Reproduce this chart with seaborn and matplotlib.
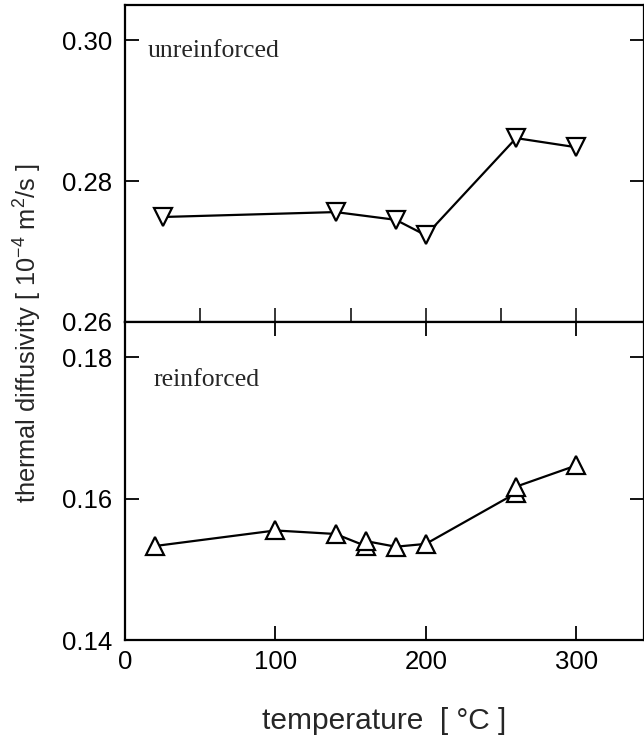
import matplotlib
matplotlib.use("Agg")
import matplotlib.pyplot as plt
import seaborn as sns
import pandas as pd
from matplotlib.ticker import MultipleLocator, FixedLocator

# ---- data ----
unrein_temp = [25, 140, 180, 200, 260, 300]
unrein_diff = [0.2749, 0.2756, 0.2745, 0.2723, 0.2861, 0.2848]

rein_temp = [20, 100, 140, 160, 160, 180, 200, 260, 260, 300]
rein_diff = [0.1533, 0.1555, 0.1550, 0.1540, 0.1533, 0.1532, 0.1536, 0.1617, 0.1608, 0.1647]

top_yticks = [0.26, 0.28, 0.30]
bot_yticks = [0.14, 0.16, 0.18]
x_ticks = [0, 100, 200, 300]

df_u = pd.DataFrame({"temperature": unrein_temp, "diffusivity": unrein_diff})
df_r = pd.DataFrame({"temperature": rein_temp, "diffusivity": rein_diff})

sns.set_style("ticks")
plt.rcParams["font.family"] = ["Liberation Sans", "DejaVu Sans"]
plt.rcParams["mathtext.fontset"] = "custom"
plt.rcParams["mathtext.rm"] = "Liberation Sans"
plt.rcParams["mathtext.it"] = "Liberation Sans:italic"
plt.rcParams["mathtext.bf"] = "Liberation Sans:bold"

fig = plt.figure(figsize=(6.44, 7.41), dpi=100)
L, R = 0.194, 1.0
ax_top = fig.add_axes([L, 0.5655, R - L, 0.9933 - 0.5655])
ax_bot = fig.add_axes([L, 0.1363, R - L, 0.5655 - 0.1363])

line_kw = dict(color="black", linewidth=1.6, markersize=12.5,
               markerfacecolor="white", markeredgecolor="black",
               markeredgewidth=1.6, estimator=None, legend=False)

sns.lineplot(data=df_u, x="temperature", y="diffusivity", marker="v",
             ax=ax_top, **line_kw)
sns.lineplot(data=df_r, x="temperature", y="diffusivity", marker="^",
             ax=ax_bot, **line_kw)

for ax in (ax_top, ax_bot):
    ax.set_xlim(0, 345)
    for s in ax.spines.values():
        s.set_visible(True)
        s.set_linewidth(1.6)
        s.set_color("black")
    ax.set_xlabel("")
    ax.set_ylabel("")
    ax.tick_params(axis="y", which="both", direction="in", length=10, width=1.3,
                   left=True, right=True, labelleft=True, labelright=False,
                   labelsize=18.5, pad=9, colors="black")

ax_top.set_ylim(0.26, 0.305)
ax_top.yaxis.set_major_locator(FixedLocator(top_yticks))
ax_top.set_yticklabels([f"{v:.2f}" for v in top_yticks])
ax_top.xaxis.set_major_locator(MultipleLocator(50))
ax_top.tick_params(axis="x", direction="in", length=10, width=1.3,
                   bottom=True, top=False, labelbottom=False)

ax_bot.set_ylim(0.14, 0.185)
ax_bot.yaxis.set_major_locator(FixedLocator(bot_yticks))
ax_bot.set_yticklabels([f"{v:.2f}" for v in bot_yticks])
ax_bot.xaxis.set_major_locator(FixedLocator(x_ticks))
ax_bot.set_xticklabels([str(v) for v in x_ticks])
ax_bot.tick_params(axis="x", direction="in", length=10, width=1.3,
                   bottom=True, top=True, labelbottom=True, labelsize=18.5,
                   pad=7, colors="black")

ax_top.text(15.3, 0.29755, "unreinforced", family=["Liberation Serif", "DejaVu Serif"],
            fontsize=18.5, ha="left", va="baseline")
ax_bot.text(19.3, 0.1760, "reinforced", family=["Liberation Serif", "DejaVu Serif"],
            fontsize=18.5, ha="left", va="baseline")

ax_bot.set_xlabel("temperature  [ °C ]", fontsize=21.5)
ax_bot.xaxis.set_label_coords(0.5, -0.211)

fig.text(0.044, 0.55, r"thermal diffusivity [ 10$^{-4}$ m$^{2}$/s ]",
         rotation=90, ha="center", va="center", fontsize=18.3)

fig.savefig("out.png", dpi=100)
